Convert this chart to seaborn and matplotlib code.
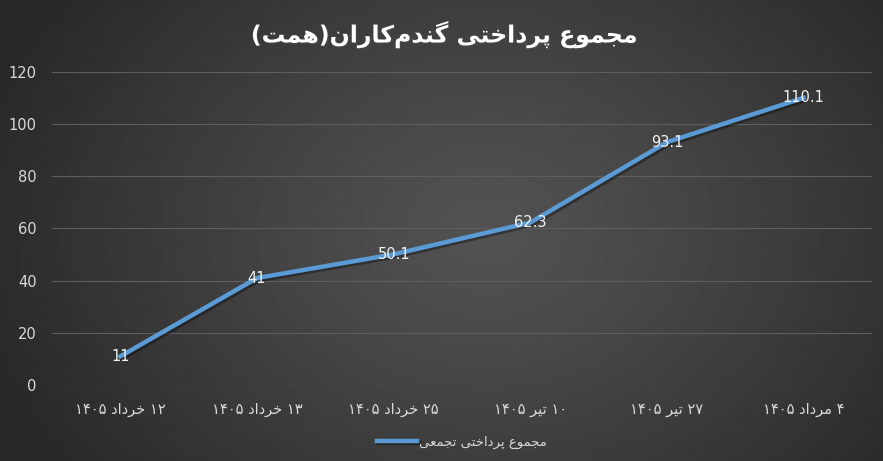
import re
import numpy as np
import pandas as pd
import matplotlib
matplotlib.use('Agg')
import matplotlib.pyplot as plt
import matplotlib.patheffects as pe
import seaborn as sns

# data
dates = ['۱۲ خرداد ۱۴۰۵', '۱۳ خرداد ۱۴۰۵', '۲۵ خرداد ۱۴۰۵',
         '۱۰ تیر ۱۴۰۵', '۲۷ تیر ۱۴۰۵', '۴ مرداد ۱۴۰۵']
payments = [11, 41, 50.1, 62.3, 93.1, 110.1]
title_text = 'مجموع پرداختی گندم\u200cکاران(همت)'
series_name = 'مجموع پرداختی تجمعی'
y_ticks = [0, 20, 40, 60, 80, 100, 120]

# minimal Persian shaping (matplotlib does not join Arabic letters itself)
# (isolated, final, initial, medial); None -> letter does not join forward
FORMS = {
    'ا': ('\uFE8D', '\uFE8E', None, None),
    'د': ('\uFEA9', '\uFEAA', None, None),
    'ر': ('\uFEAD', '\uFEAE', None, None),
    'و': ('\uFEED', '\uFEEE', None, None),
    'پ': ('\uFB56', '\uFB57', '\uFB58', '\uFB59'),
    'ت': ('\uFE95', '\uFE96', '\uFE97', '\uFE98'),
    'ج': ('\uFE9D', '\uFE9E', '\uFE9F', '\uFEA0'),
    'خ': ('\uFEA5', '\uFEA6', '\uFEA7', '\uFEA8'),
    'ع': ('\uFEC9', '\uFECA', '\uFECB', '\uFECC'),
    'م': ('\uFEE1', '\uFEE2', '\uFEE3', '\uFEE4'),
    'ن': ('\uFEE5', '\uFEE6', '\uFEE7', '\uFEE8'),
    'ه': ('\uFEE9', '\uFEEA', '\uFEEB', '\uFEEC'),
    'ک': ('\uFB8E', '\uFB8F', '\uFB90', '\uFB91'),
    'گ': ('\uFB92', '\uFB93', '\uFB94', '\uFB95'),
    'ی': ('\uFBFC', '\uFBFD', '\uFBFE', '\uFBFF'),
}


def fa(text):
    out = []
    for i, ch in enumerate(text):
        if ch == '\u200c':
            continue
        if ch not in FORMS:
            out.append(ch)
            continue
        prev = text[i - 1] if i > 0 else ''
        nxt = text[i + 1] if i + 1 < len(text) else ''
        joins_prev = prev in FORMS and FORMS[prev][2] is not None
        joins_next = FORMS[ch][2] is not None and nxt in FORMS
        iso, fin, ini, med = FORMS[ch]
        if joins_prev and joins_next:
            out.append(med)
        elif joins_prev:
            out.append(fin)
        elif joins_next:
            out.append(ini)
        else:
            out.append(iso)
    vis = ''.join(out)[::-1]
    vis = vis.translate(str.maketrans('()', ')('))
    vis = re.sub(r'[0-9\u06F0-\u06F9.]+', lambda m: m.group(0)[::-1], vis)
    return vis


df = pd.DataFrame({'date': [fa(d) for d in dates], 'value': payments})

W, H = 883, 461
fig = plt.figure(figsize=(W / 100, H / 100), dpi=100)

# radial grey background like the office chart style
bg = fig.add_axes([0, 0, 1, 1], zorder=-5)
yy, xx = np.mgrid[0:H, 0:W]
r = np.sqrt(((xx - W * 0.55) / (W * 0.6)) ** 2 + ((yy - H * 0.5) / (H * 0.9)) ** 2)
r = np.clip(r, 0, 1)
shade = 0x52 - (0x52 - 0x28) * r ** 1.2
bg.imshow(shade, cmap='gray', vmin=0, vmax=255, aspect='auto')
bg.axis('off')

ax = fig.add_axes([52 / W, 76 / H, 820 / W, 313 / H])
ax.set_facecolor('none')

sns.lineplot(data=df, x='date', y='value', sort=False, ax=ax,
             color='#5B9BD5', linewidth=3.2, label=fa(series_name),
             path_effects=[pe.SimpleLineShadow(offset=(1.5, -1.5), alpha=0.35),
                           pe.Normal()])

for i, v in enumerate(payments):
    ax.text(i, v, f'{v:g}', ha='center', va='center', color='#f2f2f2',
            fontsize=10.5)

ax.set_xlim(-0.5, len(dates) - 0.5)
ax.set_ylim(0, 120)
ax.set_yticks(y_ticks)
ax.grid(axis='y', color='#5e5e5e', linewidth=0.8)
ax.grid(axis='x', visible=False)
ax.set_axisbelow(True)
for s in ax.spines.values():
    s.set_visible(False)
ax.tick_params(axis='both', length=0, colors='#d9d9d9', labelsize=10.5)
ax.tick_params(axis='x', pad=12)
ax.tick_params(axis='y', pad=11)
ax.set_xlabel('')
ax.set_ylabel('')

ax.legend(loc='upper center', bbox_to_anchor=(0.5, -0.125), frameon=False,
          labelcolor='#d9d9d9', fontsize=9.5, handlelength=3.0,
          handletextpad=0.2)

fig.text(0.503, 0.925, fa(title_text), ha='center', va='center',
         color='white', fontsize=17, fontweight='bold',
         path_effects=[pe.withSimplePatchShadow(offset=(1, -1), alpha=0.5)])

fig.savefig('out.png', dpi=100)
